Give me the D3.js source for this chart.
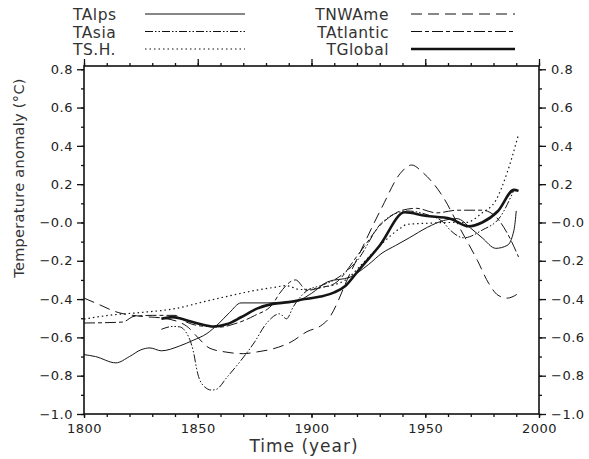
<!DOCTYPE html>
<html>
<head>
<meta charset="utf-8">
<script src="https://cdn.jsdelivr.net/npm/d3@7"></script>
<style>
body { margin: 0; background: #fff; }
text { font-family: "DejaVu Sans", sans-serif; }
</style>
</head>
<body>
<div class="content"></div>
<script>
// data (year, anomaly)
var alpsYear = [1800,1805,1814,1820,1825,1829,1834,1842,1848,1854,1859,1864,1869,1880,1892,1900,1907,1917,1925,1931,1937,1943,1951,1958,1964,1970,1975,1981,1986,1989,1990];
var alpsVal  = [-0.69,-0.70,-0.733,-0.70,-0.665,-0.655,-0.67,-0.645,-0.615,-0.58,-0.53,-0.47,-0.42,-0.42,-0.416,-0.37,-0.31,-0.285,-0.22,-0.16,-0.12,-0.08,-0.025,0.01,0.02,-0.03,-0.08,-0.135,-0.12,-0.04,0.06];

var asiaYear = [1834,1839,1842,1844,1848,1850,1853,1856,1858,1863,1869,1875,1880,1886,1889,1892,1898,1904,1910,1920,1931,1942,1951,1958,1961,1967,1975,1983,1989];
var asiaVal  = [-0.558,-0.543,-0.545,-0.56,-0.67,-0.79,-0.858,-0.875,-0.872,-0.806,-0.72,-0.624,-0.53,-0.477,-0.503,-0.44,-0.356,-0.33,-0.30,-0.20,0.0,0.06,0.04,0.0,-0.04,-0.08,-0.04,0.03,0.17];

var shYear = [1800,1810,1825,1840,1854,1869,1875,1883,1889,1895,1904,1915,1922,1931,1939,1942,1951,1961,1968,1975,1981,1986,1991];
var shVal  = [-0.505,-0.486,-0.47,-0.45,-0.41,-0.37,-0.355,-0.34,-0.33,-0.35,-0.34,-0.30,-0.22,-0.11,-0.03,-0.01,-0.004,0.0,0.0,0.05,0.115,0.26,0.46];

var nwYear = [1800,1805,1815,1825,1835,1845,1850,1855,1862,1870,1876,1883,1891,1898,1904,1907,1917,1931,1939,1944,1949,1958,1965,1973,1978,1982,1986,1991];
var nwVal  = [-0.395,-0.42,-0.47,-0.49,-0.50,-0.54,-0.60,-0.655,-0.676,-0.685,-0.676,-0.66,-0.624,-0.57,-0.54,-0.51,-0.265,0.08,0.256,0.30,0.26,0.13,-0.025,-0.20,-0.32,-0.38,-0.395,-0.37];

var atlYear = [1800,1817,1822,1830,1840,1845,1851,1860,1866,1875,1883,1886,1893,1898,1904,1910,1921,1931,1940,1946,1955,1964,1975,1981,1986,1991];
var atlVal  = [-0.525,-0.52,-0.49,-0.485,-0.485,-0.52,-0.54,-0.546,-0.53,-0.486,-0.425,-0.37,-0.30,-0.355,-0.34,-0.32,-0.16,-0.005,0.064,0.074,0.05,0.064,0.064,0.03,-0.055,-0.18];

var globYear = [1834,1839,1845,1851,1857,1863,1869,1876,1883,1890,1897,1904,1910,1915,1920,1930,1941,1950,1961,1969,1975,1982,1989,1991];
var globVal  = [-0.503,-0.494,-0.51,-0.53,-0.543,-0.53,-0.495,-0.45,-0.425,-0.416,-0.40,-0.387,-0.365,-0.33,-0.26,-0.12,0.053,0.035,0.02,-0.02,0.0,0.06,0.17,0.165];

var yTicks = [0.8,0.6,0.4,0.2,0.0,-0.2,-0.4,-0.6,-0.8,-1.0];
var yLabels = ["0.8","0.6","0.4","0.2","\u22120.0","\u22120.2","\u22120.4","\u22120.6","\u22120.8","\u22121.0"];
var xTicks = [1800,1850,1900,1950,2000];

var width = 589, height = 459;
var plotL = 84, plotR = 539, plotT = 66, plotB = 414;

var x = d3.scaleLinear().domain([1800,2000]).range([plotL,plotR]);
var y = d3.scaleLinear().domain([-1.0,0.817]).range([plotB,plotT]);

var svg = d3.select(".content").append("svg")
	.attr("width", width)
	.attr("height", height);

// series with their line styles
var series = [
	{name:"TAlps", yr:alpsYear, v:alpsVal, dash:null, w:1},
	{name:"TAsia", yr:asiaYear, v:asiaVal, dash:"8,2,1.5,2,1.5,2", w:1},
	{name:"TS.H.", yr:shYear, v:shVal, dash:"1.5,3", w:1.2},
	{name:"TNWAme", yr:nwYear, v:nwVal, dash:"11,6", w:1},
	{name:"TAtlantic", yr:atlYear, v:atlVal, dash:"11,3,4,3", w:1},
	{name:"TGlobal", yr:globYear, v:globVal, dash:null, w:2.6}
];

var line = d3.line()
	.x(d => x(d[0]))
	.y(d => y(d[1]))
	.curve(d3.curveMonotoneX);

svg.append("g").selectAll("path")
	.data(series)
	.enter()
	.append("path")
	.attr("d", d => line(d.yr.map((t,i) => [t, d.v[i]])))
	.attr("fill", "none")
	.attr("stroke", "#151515")
	.attr("stroke-width", d => d.w)
	.attr("stroke-dasharray", d => d.dash);

// axes
function styleAxis(g) {
	g.select(".domain").remove();
	g.selectAll("line").attr("stroke", "#111").attr("stroke-width", 1.3);
	g.selectAll("text").attr("fill", "#222").style("font-size", "13px").style("letter-spacing", "0.5px");
}
var yMinor = d3.range(-1.0, 0.81, 0.1);
var xMinor = d3.range(1800, 2001, 10);

svg.append("g").attr("transform", "translate(" + plotL + ",0)")
	.call(d3.axisLeft(y).tickValues(yMinor).tickSize(3).tickFormat("")).call(styleAxis);
svg.append("g").attr("transform", "translate(" + plotR + ",0)")
	.call(d3.axisRight(y).tickValues(yMinor).tickSize(3).tickFormat("")).call(styleAxis);
svg.append("g").attr("transform", "translate(0," + plotB + ")")
	.call(d3.axisBottom(x).tickValues(xMinor).tickSize(3).tickFormat("")).call(styleAxis);
svg.append("g").attr("transform", "translate(0," + plotT + ")")
	.call(d3.axisTop(x).tickValues(xMinor).tickSize(3).tickFormat("")).call(styleAxis);

svg.append("g").attr("transform", "translate(" + plotL + ",0)")
	.call(d3.axisLeft(y).tickValues(yTicks).tickSize(7).tickPadding(4).tickFormat((d,i) => yLabels[i])).call(styleAxis);
svg.append("g").attr("transform", "translate(" + plotR + ",0)")
	.call(d3.axisRight(y).tickValues(yTicks).tickSize(7).tickPadding(5).tickFormat((d,i) => yLabels[i])).call(styleAxis);
svg.append("g").attr("transform", "translate(0," + plotB + ")")
	.call(d3.axisBottom(x).tickValues(xTicks).tickSize(4).tickPadding(6).tickFormat(d3.format("d"))).call(styleAxis);
svg.append("g").attr("transform", "translate(0," + plotT + ")")
	.call(d3.axisTop(x).tickValues(xTicks).tickSize(7).tickFormat("")).call(styleAxis);

// frame
svg.append("rect")
	.attr("x", plotL).attr("y", plotT)
	.attr("width", plotR - plotL).attr("height", plotB - plotT)
	.attr("fill", "none").attr("stroke", "#111").attr("stroke-width", 1.6);

// axis titles
svg.append("text")
	.attr("x", 304).attr("y", 452)
	.attr("text-anchor", "middle")
	.attr("fill", "#333")
	.style("font-size", "17px").style("letter-spacing", "1px")
	.text("Time (year)");

svg.append("text")
	.attr("transform", "translate(24,178) rotate(-90)")
	.attr("text-anchor", "middle")
	.attr("fill", "#333")
	.style("font-size", "14.5px").style("letter-spacing", "0.3px")
	.text("Temperature anomaly (\u00B0C)");

// legend, two columns of three
var leg = svg.append("g").selectAll("g")
	.data(series)
	.enter()
	.append("g")
	.attr("transform", (d,i) => "translate(0," + (20 + (i%3)*17.5) + ")");

leg.append("text")
	.attr("x", (d,i) => i < 3 ? 73 : 389)
	.attr("text-anchor", (d,i) => i < 3 ? "start" : "end")
	.attr("fill", "#333")
	.style("font-size", "15.5px")
	.style("letter-spacing", "0.5px")
	.text(d => d.name);

leg.append("line")
	.attr("x1", (d,i) => i < 3 ? 145 : 411)
	.attr("x2", (d,i) => i < 3 ? 245 : 515)
	.attr("y1", -6).attr("y2", -6)
	.attr("stroke", "#111")
	.attr("stroke-width", d => d.w)
	.attr("stroke-dasharray", d => d.dash);
</script>
</body>
</html>
